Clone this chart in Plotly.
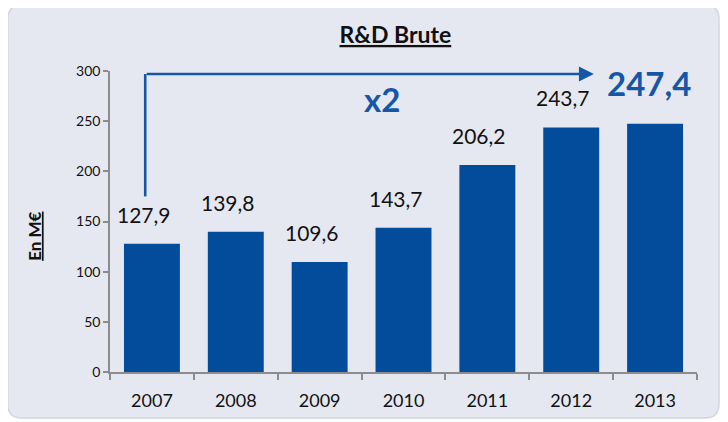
import plotly.graph_objects as go

years = ["2007", "2008", "2009", "2010", "2011", "2012", "2013"]
values = [127.9, 139.8, 109.6, 143.7, 206.2, 243.7, 247.4]
y_ticks = [0, 50, 100, 150, 200, 250, 300]
title_text = "R&amp;D Brute"
y_title = "En M€"
growth_text = "x2"

BAR = "#024C9B"
BLUE = "#1656A6"
FONT = "Lato, 'Open Sans', sans-serif"

pos = list(range(len(years)))

def fr(v):
    return f"{v:.1f}".replace(".", ",")

fig = go.Figure()
fig.add_trace(go.Bar(x=pos, y=values, marker=dict(color=BAR, line=dict(width=0)),
                     hoverinfo="skip"))

annotations = []
for i, v in zip(pos, values):
    last = i == len(years) - 1
    annotations.append(dict(
        x=i, y=v, xref="x", yref="y", text=("<b>" + fr(v) + "</b>") if last else fr(v),
        showarrow=False, yanchor="bottom", xanchor="center",
        xshift=-6 if last else -8, yshift=19 if last else 15,
        font=dict(family=FONT, size=33 if last else 21, color=BLUE if last else "#111111")))

# growth arrow: horizontal segment with head (annotation arrow)
annotations.append(dict(
    x=5.27, y=297, xref="x", yref="y", ax=-0.08, ay=297, axref="x", ayref="y",
    text="", showarrow=True, arrowhead=2, arrowsize=1.15, arrowwidth=2.6,
    arrowcolor=BLUE, standoff=0, startstandoff=0))
annotations.append(dict(
    x=2.74, y=272, xref="x", yref="y", text="<b>" + growth_text + "</b>",
    showarrow=False, font=dict(family=FONT, size=33, color=BLUE)))
annotations.append(dict(
    x=-0.128, y=0.452, xref="paper", yref="paper", text="<b><u>" + y_title + "</u></b>",
    xanchor="center", yanchor="middle",
    textangle=-90, showarrow=False, font=dict(family=FONT, size=17, color="#111111")))

# panel background (rounded rect in paper coords)
x0, x1, y0, y1 = -0.174, 1.0375, -0.153, 1.219
rx, ry = 14 / 587, 14 / 301
panel = (f"M {x0+rx},{y1} L {x1-rx},{y1} Q {x1},{y1} {x1},{y1-ry} "
         f"L {x1},{y0+ry} Q {x1},{y0} {x1-rx},{y0} L {x0+rx},{y0} "
         f"Q {x0},{y0} {x0},{y0+ry} L {x0},{y1-ry} Q {x0},{y1} {x0+rx},{y1} Z")

shapes = [
    dict(type="path", path=panel, xref="paper", yref="paper", layer="below",
         fillcolor="#E6E8F1", line=dict(color="#D3D6E0", width=1.5)),
    dict(type="line", x0=-0.08, x1=-0.08, y0=175, y1=297, xref="x", yref="y",
         line=dict(color=BLUE, width=2.6)),
]

fig.update_layout(
    width=720, height=414,
    margin=dict(l=102, r=31, t=63, b=50),
    paper_bgcolor="white", plot_bgcolor="rgba(0,0,0,0)",
    showlegend=False, bargap=0.333,
    font=dict(family=FONT, color="#111111"),
    title=dict(text="<b><u>" + title_text + "</u></b>", xref="container", yref="container",
               x=0.538, y=0.935, xanchor="center", yanchor="middle",
               font=dict(family=FONT, size=23, color="#111111")),
    xaxis=dict(range=[-0.5, len(years) - 0.5], tickmode="array", tickvals=pos, ticktext=years,
               showline=True, linecolor="#8C8C8C", linewidth=1.5, ticks="",
               ticklabelstandoff=12,
               minor=dict(tickmode="linear", tick0=-0.5, dtick=1, ticks="outside", ticklen=6,
                          tickcolor="#8C8C8C", tickwidth=1.5, showgrid=False),
               tickfont=dict(family=FONT, size=18, color="#111111"),
               showgrid=False, zeroline=False, fixedrange=True),
    yaxis=dict(range=[0, 300], tickvals=y_ticks, showline=True, linecolor="#8C8C8C",
               linewidth=1.5, ticks="outside", ticklen=5, tickcolor="#8C8C8C", tickwidth=1.5,
               tickfont=dict(family=FONT, size=14, color="#111111"), showgrid=False,
               zeroline=False, fixedrange=True),
    annotations=annotations, shapes=shapes,
)

fig.write_html("out.html", config={"displayModeBar": False})
